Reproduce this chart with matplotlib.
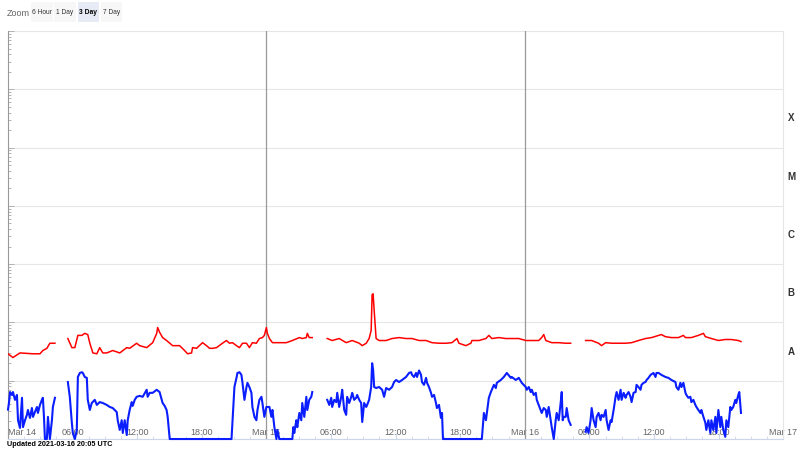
import numpy as np
import matplotlib
matplotlib.use('Agg')
import matplotlib.pyplot as plt
from matplotlib.patches import Rectangle
from matplotlib.transforms import blended_transform_factory

# hours since 2021-03-14 00:00 UTC, flux in units of 1e-9 W/m^2 (nan = data gap)
long_hours = [0.0, 0.46, 1.11, 2.32, 2.97, 3.24, 3.61, 3.89, 4.26, 4.36, 4.9,
              5.56, 5.93, 6.21, 6.49, 6.86, 7.13, 7.41, 7.60, 7.88, 8.25, 8.52, 8.80, 9.17, 9.73,
              10.38, 11.03, 11.30, 11.95, 12.23, 12.88, 13.44, 13.81, 13.90, 14.08, 14.36, 14.73,
              15.29, 15.94, 16.40, 16.68, 17.05, 17.14, 17.51, 18.07, 18.44, 18.72, 19.0, 19.37,
              19.92, 20.29, 20.57, 20.85, 21.22, 21.50, 21.78, 22.15, 22.42, 22.70, 23.07, 23.35,
              23.63, 23.81, 24.0, 24.09, 24.28, 24.56, 25.20, 25.85, 26.41, 27.06, 27.33, 27.71,
              27.80, 27.98, 28.26, 29.0,
              29.65, 30.11, 30.76, 31.41, 31.97, 32.62, 32.90, 33.27, 33.54, 33.73, 33.82, 33.91,
              34.01, 34.19, 34.47, 35.12, 35.67, 36.32, 36.97, 37.53, 38.18, 38.83, 39.38, 40.03,
              40.68, 41.23, 41.70, 41.88, 42.53, 42.99, 43.09, 43.74, 44.39, 44.66, 44.94, 45.59,
              46.24, 46.79, 47.44, 48.09, 48.65, 49.29, 49.57, 49.76, 49.95, 50.50, 51.15, 51.80,
              52.26, 53.0,
              53.65, 54.21, 54.85, 55.13, 55.51, 56.06, 56.71, 57.36, 57.92, 58.56, 59.21, 59.77,
              60.42, 60.69, 61.06, 61.62, 62.27, 62.73, 62.92, 63.47, 64.12, 64.59, 64.77, 65.33,
              65.98, 66.62, 67.18, 67.83, 68.08]
long_flux = [29, 25, 30, 29, 29, 33, 36, 44, 44, 44, np.nan,
             53, 37, 37, 60, 60, 65, 62, 44, 30, 29, 37, 30, 30, 33,
             30, 37, 36, 44, 40, 37, 45, 65, 82, 68, 55, 49,
             40, 40, 33, 29, 30, 37, 36, 45, 40, 36, 36, 37,
             44, 49, 44, 45, 40, 37, 44, 44, 37, 45, 44, 53,
             55, 60, 82, 65, 53, 45, 45, 45, 49, 55, 53, 55,
             65, 55, 55, np.nan,
             53, 49, 53, 45, 49, 44, 40, 44, 53, 73, 300, 310,
             160, 53, 49, 49, 53, 55, 53, 53, 49, 49, 45, 44,
             44, 45, 53, 44, 40, 44, 49, 49, 53, 60, 53, 55,
             53, 53, 53, 49, 49, 49, 55, 62, 49, 45, 45, 44,
             44, np.nan,
             49, 49, 44, 40, 45, 44, 44, 44, 45, 49, 53, 55,
             60, 62, 57, 55, 55, 60, 55, 55, 60, 65, 57, 53,
             49, 51, 51, 49, 47]

short_hours = [0.0, 0.1, 0.19, 0.37, 0.46, 0.65, 0.83, 0.93, 1.11, 1.30, 1.39, 1.58, 1.76, 1.85,
               2.04, 2.22, 2.32, 2.50, 2.69, 2.78, 2.97, 3.15, 3.24, 3.34, 3.43, 3.61, 3.71, 3.89,
               4.08, 4.17, 4.36, 4.9,
               5.56, 5.74, 5.93, 6.02, 6.21, 6.39, 6.49, 6.67, 6.86, 6.95, 7.13, 7.32, 7.41, 7.60,
               7.78, 8.06, 8.25, 8.52, 8.80, 9.17, 9.45, 9.73, 10.10, 10.19, 10.38, 10.56, 10.66,
               10.84, 11.03, 11.12, 11.30, 11.49, 11.58, 11.77, 11.95, 12.23, 12.51, 12.88, 12.97,
               13.16, 13.44, 13.81, 14.08, 14.36, 14.55, 14.73, 14.83, 15.02, 20.76,
               21.03, 21.22, 21.31, 21.50, 21.68, 21.78, 21.96, 22.15, 22.24, 22.42, 22.61, 22.70,
               22.89, 23.07, 23.17, 23.35, 23.54, 23.63, 23.81, 24.0, 24.28, 24.46, 24.56, 24.74,
               24.93, 25.02, 25.20, 26.41, 26.50, 26.59, 26.78, 26.87, 27.06, 27.24, 27.33, 27.52,
               27.71, 27.80, 27.98, 28.17, 28.26, 29.0,
               29.65, 29.84, 30.02, 30.11, 30.30, 30.49, 30.58, 30.76, 30.95, 31.04, 31.23, 31.41,
               31.50, 31.69, 31.88, 31.97, 32.15, 32.34, 32.43, 32.62, 32.80, 32.90, 33.08, 33.27,
               33.36, 33.54, 33.73, 33.82, 33.91, 34.01, 34.19, 34.47, 34.75, 34.93, 35.12, 35.40,
               35.67, 35.86, 36.05, 36.32, 36.60, 36.97, 37.25, 37.44, 37.53, 37.71, 37.90, 37.99,
               38.18, 38.36, 38.45, 38.64, 38.83, 38.92, 39.10, 39.29, 39.38, 39.57, 39.75, 39.84,
               40.03, 40.21, 40.31, 40.40, 44.01, 44.20, 44.39, 44.48, 44.66, 44.85, 44.94, 45.13,
               45.31, 45.40, 45.77, 46.05, 46.33, 46.70, 46.79, 47.16, 47.44, 47.72, 48.09, 48.18,
               48.37, 48.55, 48.65, 48.83, 49.02, 49.11, 49.29, 49.48, 49.57, 49.76, 49.95, 50.04,
               50.22, 50.41, 50.50, 50.69, 50.87, 50.96, 51.15, 51.33, 51.43, 51.52, 51.61, 51.80,
               51.89, 52.07, 52.26, 53.0,
               53.65, 53.74, 53.92, 54.11, 54.21, 54.39, 54.58, 54.67, 54.85, 55.04, 55.13, 55.32,
               55.51, 55.60, 55.78, 55.97, 56.06, 56.25, 56.43, 56.53, 56.71, 56.90, 56.99, 57.18,
               57.36, 57.45, 57.64, 57.82, 57.92, 58.10, 58.29, 58.38, 58.56, 58.75, 58.84, 59.03,
               59.21, 59.31, 59.49, 59.68, 59.95, 60.14, 60.23, 60.42, 60.69, 61.06, 61.34, 61.62,
               61.99, 62.08, 62.27, 62.45, 62.55, 62.73, 62.92, 63.01, 63.19, 63.38, 63.47, 63.66,
               63.84, 63.94, 64.12, 64.31, 64.40, 64.59, 64.77, 64.86, 65.05, 65.23, 65.33, 65.51,
               65.70, 65.79, 65.98, 66.16, 66.25, 66.44, 66.62, 66.72, 66.90, 67.09, 67.18, 67.36,
               67.55, 67.64, 67.83, 67.92, 68.08]
short_flux = [3.2, 4.3, 6.4, 5.7, 6.4, 4.7, 5.7, 2.1, 1.55, 5.1, 1.6, 2.1, 2.6, 3.15,
              2.3, 3.4, 2.4, 2.9, 3.55, 2.8, 3.85, 4.7, 5.1, 2.4, 1.0, 1.0, 2.4, 1.0,
              2.1, 3.55, 5.1, np.nan,
              9.5, 5.3, 1.9, 1.27, 1.0, 1.43, 11.6, 13.6, 14, 13.6, 11.6, 11.2, 4.7, 3.15,
              4.15, 4.7, 3.85, 4.3, 4.15, 3.85, 3.55, 3.4, 2.9, 2.1, 1.43, 2.1, 1.27,
              2.1, 1.17, 2.1, 3.15, 4.3, 3.7, 4.7, 5.3, 5.5, 5.3, 7.0, 5.3,
              6.2, 6.2, 7.0, 6.4, 4.15, 3.7, 3.15, 2.4, 1.0, 1.0,
              7.8, 11.2, 13.6, 14, 12.6, 9.2, 4.7, 7.8, 9.2, 7.8, 6.2, 3.55,
              2.4, 2.1, 3.15, 4.7, 5.3, 4.15, 2.4, 3.55, 3.55, 2.4, 3.15, 1.6,
              1.0, 1.43, 1.0, 1.0, 1.6, 1.27, 2.1, 1.6, 2.8, 2.1, 4.15, 2.4,
              5.3, 3.15, 4.7, 5.3, 6.4, np.nan,
              4.7, 3.85, 5.1, 3.55, 4.7, 4.3, 6.2, 3.55, 5.3, 7.0, 3.15, 2.6,
              5.3, 4.15, 5.3, 6.2, 4.7, 5.1, 5.7, 4.7, 4.15, 1.96, 4.15, 3.55,
              3.85, 4.7, 7.8, 20, 15.5, 7.8, 7.5, 7.8, 7.0, 5.3, 7.5, 7.0,
              7.8, 9.5, 10.3, 9.5, 10.3, 11.6, 13.6, 14, 12.6, 11.6, 13.6, 11.6,
              15, 12.6, 9.5, 8.5, 11.2, 9.2, 7.8, 6.2, 5.3, 5.7, 4.15, 3.4,
              3.85, 2.3, 2.8, 1.0, 1.0, 2.8, 2.1, 2.8, 5.1, 6.4, 7.0, 8.5,
              7.5, 9.2, 10.3, 11.6, 13.6, 11.2, 11.6, 10.3, 11.2, 9.2, 7.8, 7.0,
              7.8, 6.4, 7.0, 5.7, 6.2, 4.7, 3.85, 3.15, 2.8, 3.4, 3.15, 2.4,
              3.55, 2.1, 1.6, 1.0, 2.1, 2.8, 2.1, 4.15, 6.4, 2.1, 2.4, 2.4,
              3.4, 2.1, 1.75, np.nan,
              1.33, 1.6, 1.27, 2.1, 3.4, 2.1, 1.6, 2.4, 2.8, 2.1, 2.6, 2.4,
              3.15, 2.1, 1.43, 2.1, 1.96, 3.15, 5.3, 6.4, 4.7, 7.0, 4.7, 6.2,
              5.1, 5.7, 6.4, 5.3, 4.3, 6.2, 6.4, 8.5, 7.8, 7.0, 8.5, 9.2,
              9.5, 10.3, 11.2, 12.6, 13.6, 11.6, 13.6, 13.6, 12.6, 11.6, 11.2, 10.3,
              9.5, 7.8, 7.0, 9.2, 7.8, 9.2, 6.2, 5.7, 5.1, 5.3, 4.3, 4.7,
              3.85, 3.55, 3.15, 2.8, 3.15, 2.4, 1.9, 1.43, 2.1, 1.27, 2.1, 1.43,
              2.4, 1.27, 3.15, 1.6, 2.4, 1.43, 1.09, 2.1, 1.6, 3.55, 3.15, 3.55,
              4.7, 4.15, 5.7, 6.4, 2.8]

tick_hours = [0, 6, 12, 18, 24, 30, 36, 42, 48, 54, 60, 66, 72]
tick_labels = ['Mar 14', '06:00', '12:00', '18:00', 'Mar 15', '06:00', '12:00', '18:00',
               'Mar 16', '06:00', '12:00', '18:00', 'Mar 17']
day_hours = [24, 48]
class_names = ['A', 'B', 'C', 'M', 'X']
class_floor = [1e-8, 1e-7, 1e-6, 1e-5, 1e-4]
zoom_buttons = ['6 Hour', '1 Day', '3 Day', '7 Day']

plt.rcParams['font.family'] = ['Liberation Sans', 'DejaVu Sans']

fig = plt.figure(figsize=(8, 4.5), dpi=100)
ax = fig.add_axes([0.01, 0.0244, 0.969, 0.9066])

ax.plot(long_hours, np.array(long_flux) * 1e-9, color='#ff0000', lw=1.1, zorder=3)
ax.plot(short_hours, np.array(short_flux) * 1e-9, color='#0a1eff', lw=1.5, zorder=3,
        clip_on=False)

ax.set_yscale('log')
ax.set_ylim(1e-9, 1e-2)
ax.set_xlim(0, 72)

ax.grid(axis='y', which='major', color='#e6e6e6', lw=0.8)
for d in day_hours:
    ax.axvline(d, color='#999999', lw=0.9, zorder=2)

ax.tick_params(axis='y', which='both', direction='in', left=True, labelleft=False,
               color='#aaaaaa', width=0.6)
ax.tick_params(axis='y', which='major', length=4)
ax.tick_params(axis='y', which='minor', length=2)

ax.set_xticks(tick_hours)
ax.set_xticklabels(tick_labels)
ax.set_xticks(np.arange(0, 73, 1.5), minor=True)
ax.tick_params(axis='x', which='major', direction='in', length=4, color='#ccd6eb',
               labelsize=6.5, labelcolor='#666666', pad=-8)
ax.tick_params(axis='x', which='minor', direction='in', length=2, color='#ccd6eb')
xl = ax.get_xticklabels()
xl[0].set_horizontalalignment('left')

ax.spines['top'].set_visible(False)
ax.spines['right'].set_color('#e6e6e6')
ax.spines['bottom'].set_color('#ccd6eb')
ax.spines['left'].set_color('#999999')
ax.spines['left'].set_linewidth(0.8)

trans = blended_transform_factory(ax.transAxes, ax.transData)
for name, lo in zip(class_names, class_floor):
    ax.text(1.0103, lo * np.sqrt(10), name, transform=trans, ha='center', va='center',
            fontsize=7, fontweight='bold', color='#333333')

# range selector buttons (figure pixel layout)
fig.text(7 / 800, 1 - 13 / 450, 'Zoom', fontsize=6.5, color='#666666', va='center')
for i, lab in enumerate(zoom_buttons):
    selected = lab == '3 Day'
    x0 = 31 + i * 23.3
    fig.patches.append(Rectangle((x0 / 800, 1 - 22 / 450), 21.5 / 800, 20 / 450,
                                 transform=fig.transFigure, fc='#e6ebf5' if selected else '#f7f7f7',
                                 ec='none'))
    fig.text((x0 + 10.75) / 800, 1 - 12.5 / 450, lab, fontsize=4.8, va='center', ha='center',
             color='#000000' if selected else '#333333',
             fontweight='bold' if selected else 'normal')

fig.text(0.009, 0.012, 'Updated 2021-03-16 20:05 UTC', fontsize=5.2, fontweight='bold',
         color='#000000', va='center')

fig.savefig('out.png', dpi=100)
